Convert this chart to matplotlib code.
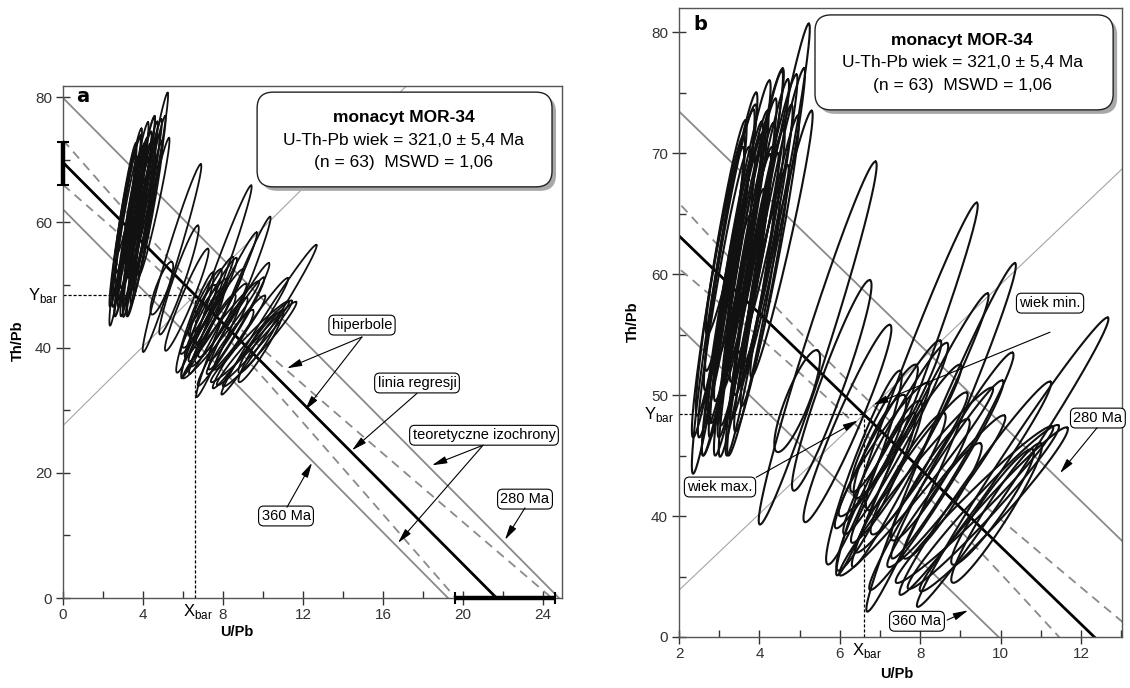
import numpy as np
import matplotlib
matplotlib.use('Agg')
import matplotlib.pyplot as plt
from matplotlib.patches import FancyBboxPatch
from matplotlib.transforms import offset_copy

plt.rcParams['font.family'] = ['Liberation Sans', 'DejaVu Sans']

# ellipses (U/Pb, Th/Pb): centre, half-extent to the upper tip
# group 1 - left dense cluster, group 2 - scatter along regression line
g1_x = [4.43, 4.33, 3.86, 4.00, 4.26, 3.40, 3.45, 2.97, 3.12, 3.65, 2.98, 3.23, 3.64, 3.82, 3.40, 3.05,
        3.25, 3.55, 3.75, 3.95, 3.30, 3.60, 4.10, 3.50, 3.85, 3.20, 4.05, 3.70, 4.20, 3.90, 3.30, 4.55]
g1_y = [66.7, 64.0, 64.3, 63.6, 61.1, 60.1, 59.7, 57.0, 58.5, 58.5, 59.0, 57.5, 57.4, 57.5, 59.0, 60.5,
        62.0, 61.5, 62.5, 60.0, 63.5, 64.5, 62.0, 56.0, 55.5, 55.0, 58.0, 60.0, 65.0, 66.0, 64.5, 62.5]
g1_ax = [0.80, 0.78, 0.70, 0.71, 0.70, 0.66, 0.64, 0.62, 0.62, 0.66, 0.63, 0.63, 0.62, 0.63, 0.63, 0.60,
         0.60, 0.65, 0.65, 0.65, 0.62, 0.65, 0.70, 0.60, 0.62, 0.60, 0.65, 0.65, 0.72, 0.68, 0.60, 0.75]
g1_ay = [14.0, 13.0, 12.5, 12.5, 12.0, 12.5, 12.0, 13.5, 12.0, 12.0, 12.5, 12.5, 12.5, 12.5, 12.5, 12.2,
         11.6, 12.0, 12.0, 12.0, 11.5, 11.5, 12.0, 11.0, 10.5, 10.0, 11.0, 12.5, 11.5, 11.0, 9.5, 11.0]

g2_x = [5.45, 4.94, 5.80, 6.19, 7.67, 8.52, 10.30, 8.00, 8.40, 7.90, 9.37, 9.35, 9.57, 9.83, 8.65, 7.78,
        7.39, 7.20, 7.65, 7.10, 9.90, 8.55, 7.70, 7.10, 9.80, 8.25, 7.00, 7.35, 8.80, 6.60, 6.90]
g2_y = [54.3, 49.5, 50.8, 47.65, 50.5, 46.5, 44.45, 47.1, 42.55, 42.85, 42.3, 40.95, 40.75, 40.55, 42.05, 43.6,
        46.4, 46.75, 45.15, 45.5, 40.25, 41.25, 43.5, 47.25, 40.75, 43.0, 45.75, 45.0, 45.0, 44.0, 42.0]
g2_ax = [1.44, 0.50, 0.95, 1.06, 1.74, 1.84, 2.37, 1.68, 1.65, 1.90, 1.87, 1.95, 1.87, 1.83, 1.45, 1.38,
         1.28, 1.30, 1.35, 1.10, 1.10, 0.95, 0.90, 0.80, 1.00, 0.95, 0.60, 0.65, 1.50, 0.90, 0.95]
g2_ay = [15.0, 4.2, 8.7, 8.15, 15.4, 14.4, 11.95, 11.3, 8.65, 7.75, 8.8, 6.45, 6.75, 6.75, 6.25, 6.6,
         7.9, 7.75, 7.35, 5.5, 5.75, 4.75, 5.0, 5.25, 4.75, 5.0, 4.25, 4.5, 8.5, 8.0, 6.5]

# regression line and its hyperbolic envelope
x_bar, y_bar = 6.6, 48.4
slope = -3.21
hyp_a, hyp_b = 2.25, 0.24
yint_band = [66.0, 72.8]
xint_band = [19.6, 24.6]
aux_slope = 3.16

# theoretical isochrons
iso_labels = ['280 Ma', '360 Ma']
iso_y0 = [79.9, 62.1]
iso_x0 = [24.8, 19.25]

info_lines = ['monacyt MOR-34', 'U-Th-Pb wiek = 321,0 ± 5,4 Ma', '(n = 63)  MSWD = 1,06']

GREY = '#8a8a8a'


def draw_common(ax, lw_ell, w1, w2):
    t = np.linspace(0, 2 * np.pi, 181)
    S = 3.25
    groups = [(g1_x, g1_y, g1_ax, g1_ay, w1), (g2_x, g2_y, g2_ax, g2_ay, w2)]
    for xs, ys, axs, ays, w in groups:
        for cx, cy, a_x, a_y in zip(xs, ys, axs, ays):
            L = np.hypot(S * a_x, a_y)
            mx, my = -a_y * w / (L * S), S * a_x * w / L
            ex = cx + a_x * np.cos(t) + mx * np.sin(t)
            ey = cy + a_y * np.cos(t) + my * np.sin(t)
            ax.plot(ex, ey, color='#111111', lw=lw_ell, zorder=3)

    # isochrons
    for y0, x0 in zip(iso_y0, iso_x0):
        ax.plot([0, x0], [y0, 0], color=GREY, lw=1.3, zorder=2)

    # regression + hyperbolas
    x_int = x_bar - y_bar / slope
    xr = np.array([0, x_int])
    ax.plot(xr, y_bar + slope * (xr - x_bar), color='k', lw=2.0, zorder=2.5)
    xh = np.linspace(0, 26, 400)
    reg = y_bar + slope * (xh - x_bar)
    h = np.sqrt(hyp_a + hyp_b * (xh - x_bar) ** 2)
    for sgn in (1, -1):
        ax.plot(xh, reg + sgn * h, color=GREY, lw=1.3, dashes=(5, 3.5), zorder=2)

    # thin line through the centroid
    xa = np.array([0, 26])
    ax.plot(xa, y_bar + aux_slope * (xa - x_bar), color='#a5a5a5', lw=0.8, zorder=1.5)


def centroid(ax, x0, y0):
    ax.plot([x0, x_bar], [y_bar, y_bar], color='k', lw=0.9, dashes=(2.5, 1.5), zorder=2)
    ax.plot([x_bar, x_bar], [y0, y_bar], color='k', lw=0.9, dashes=(2.5, 1.5), zorder=2)
    ax.annotate(r'X$_{\mathregular{bar}}$', xy=(x_bar, 0), xycoords=('data', 'axes fraction'),
                xytext=(2, -3), textcoords='offset points', ha='center', va='top', fontsize=12)
    ax.annotate(r'Y$_{\mathregular{bar}}$', xy=(0, y_bar), xycoords=('axes fraction', 'data'),
                xytext=(-4, 0), textcoords='offset points', ha='right', va='center', fontsize=12)


def info_box(fig, ax, x0, y0, x1, y1, tx, ty):
    W, H = ax.bbox.width, ax.bbox.height
    r = 16 / W
    style = 'round,pad=0,rounding_size=%.4f' % r
    sh_tr = offset_copy(ax.transAxes, fig=fig, x=4, y=-4, units='dots')
    sh = FancyBboxPatch((x0, y0), x1 - x0, y1 - y0, boxstyle=style, mutation_aspect=W / H,
                        transform=sh_tr, fc='#a8a8a8', ec='none', zorder=5, clip_on=False)
    bx = FancyBboxPatch((x0, y0), x1 - x0, y1 - y0, boxstyle=style, mutation_aspect=W / H,
                        transform=ax.transAxes, fc='white', ec='#222222', lw=1.0, zorder=6,
                        clip_on=False)
    ax.add_patch(sh)
    ax.add_patch(bx)
    for i, (s, yy) in enumerate(zip(info_lines, ty)):
        ax.text(tx, yy, s, transform=ax.transAxes, ha='center', va='center', fontsize=12.5,
                fontweight='bold' if i == 0 else 'normal', zorder=7)


def label(ax, s, pos, starts, tips):
    ax.text(pos[0], pos[1], s, ha='center', va='center', fontsize=10.5, zorder=8,
            bbox=dict(boxstyle='round,pad=0.2,rounding_size=0.35', fc='white', ec='k', lw=0.8))
    for st, tp in zip(starts, tips):
        ax.annotate('', xy=tp, xytext=st, zorder=8, annotation_clip=False,
                    arrowprops=dict(arrowstyle='-|>,head_length=0.9,head_width=0.22',
                                    color='k', lw=0.8, mutation_scale=10,
                                    shrinkA=0, shrinkB=0))


def style_axes(ax):
    for sp in ax.spines.values():
        sp.set_color('#555555')
        sp.set_linewidth(1.0)
    ax.tick_params(which='major', direction='inout', length=10, width=1.0, colors='#333333',
                   labelsize=11, pad=2)
    ax.tick_params(which='minor', direction='in', length=5, width=1.0, colors='#333333')
    ax.tick_params(axis='y', which='major', pad=3)


fig = plt.figure(figsize=(11.3, 6.88), dpi=100)

# ---------------- panel a ----------------
axa = fig.add_axes([63 / 1130, 1 - 598 / 688, 499 / 1130, 512 / 688])
axa.set_xlim(0, 24.95)
axa.set_ylim(0, 81.8)
draw_common(axa, 1.3, 0.65, 0.95)
centroid(axa, 0, 0)
axa.plot([0, 0], yint_band, color='k', lw=3.2, solid_capstyle='butt', clip_on=False, zorder=4)
axa.plot([0, 0], yint_band, 'k_', ms=8, mew=1.5, clip_on=False, zorder=4)
axa.plot(xint_band, [0, 0], color='k', lw=3.2, solid_capstyle='butt', clip_on=False, zorder=4)
axa.plot(xint_band, [0, 0], 'k|', ms=8, mew=1.5, clip_on=False, zorder=4)
axa.set_xticks([0, 4, 8, 12, 16, 20, 24])
axa.set_xticks([2, 6, 10, 14, 18, 22], minor=True)
axa.set_yticks([0, 20, 40, 60, 80])
axa.set_yticks([10, 30, 50, 70], minor=True)
style_axes(axa)
axa.text(0.349, -0.066, 'U/Pb', transform=axa.transAxes, ha='center', va='center',
         fontsize=10.5, fontweight='bold', family=['Liberation Sans Narrow', 'Liberation Sans'])
axa.text(-0.090, 0.502, 'Th/Pb', transform=axa.transAxes, ha='center', va='center', rotation=90,
         fontsize=10.5, fontweight='bold', family=['Liberation Sans Narrow', 'Liberation Sans'])
axa.text(0.04, 0.979, 'a', transform=axa.transAxes, ha='center', va='center', fontsize=14,
         fontweight='heavy', family='DejaVu Sans')
info_box(fig, axa, 0.389, 0.803, 0.980, 0.988, 0.683, [0.939, 0.893, 0.850])
label(axa, 'hiperbole', (14.95, 43.6), [(14.95, 41.7), (14.95, 41.7)], [(11.2, 36.7), (12.1, 30.0)])
label(axa, 'linia regresji', (17.7, 34.35), [(17.7, 32.7)], [(14.45, 23.6)])
label(axa, 'teoretyczne izochrony', (21.05, 26.0), [(21.0, 24.4), (21.0, 24.4)],
      [(18.45, 21.2), (16.75, 8.8)])
label(axa, iso_labels[0], (23.1, 15.8), [(23.1, 14.4)], [(22.1, 9.3)])
label(axa, iso_labels[1], (11.15, 13.1), [(11.2, 14.5)], [(12.45, 21.6)])

# ---------------- panel b ----------------
axb = fig.add_axes([679 / 1130, 1 - 637 / 688, 443 / 1130, 629 / 688])
axb.set_xlim(2, 13.02)
axb.set_ylim(30, 82.0)
draw_common(axb, 1.5, 0.65, 0.95)
centroid(axb, 2, 30)
axb.set_xticks([2, 4, 6, 8, 10, 12])
axb.set_xticks([3, 5, 7, 9, 11, 13], minor=True)
axb.set_yticks([30, 40, 50, 60, 70, 80])
axb.set_yticklabels(['0', '40', '50', '60', '70', '80'])
axb.set_yticks([35, 45, 55, 65, 75], minor=True)
style_axes(axb)
axb.text(0.492, -0.059, 'U/Pb', transform=axb.transAxes, ha='center', va='center',
         fontsize=10.5, fontweight='bold', family=['Liberation Sans Narrow', 'Liberation Sans'])
axb.text(-0.104, 0.501, 'Th/Pb', transform=axb.transAxes, ha='center', va='center', rotation=90,
         fontsize=10.5, fontweight='bold', family=['Liberation Sans Narrow', 'Liberation Sans'])
axb.text(0.047, 0.974, 'b', transform=axb.transAxes, ha='center', va='center', fontsize=14,
         fontweight='heavy', family='DejaVu Sans')
info_box(fig, axb, 0.307, 0.838, 0.980, 0.989, 0.639, [0.949, 0.914, 0.876])
label(axb, 'wiek min.', (11.23, 57.6), [(11.23, 55.2)], [(6.83, 49.2)])
label(axb, 'wiek max.', (3.02, 42.4), [(3.92, 43.2)], [(6.45, 47.9)])
label(axb, iso_labels[0], (12.42, 48.1), [(12.4, 47.3)], [(11.48, 43.55)])
label(axb, iso_labels[1], (7.92, 31.3), [(8.67, 31.4)], [(9.19, 32.2)])

fig.savefig('out.png', dpi=100)
